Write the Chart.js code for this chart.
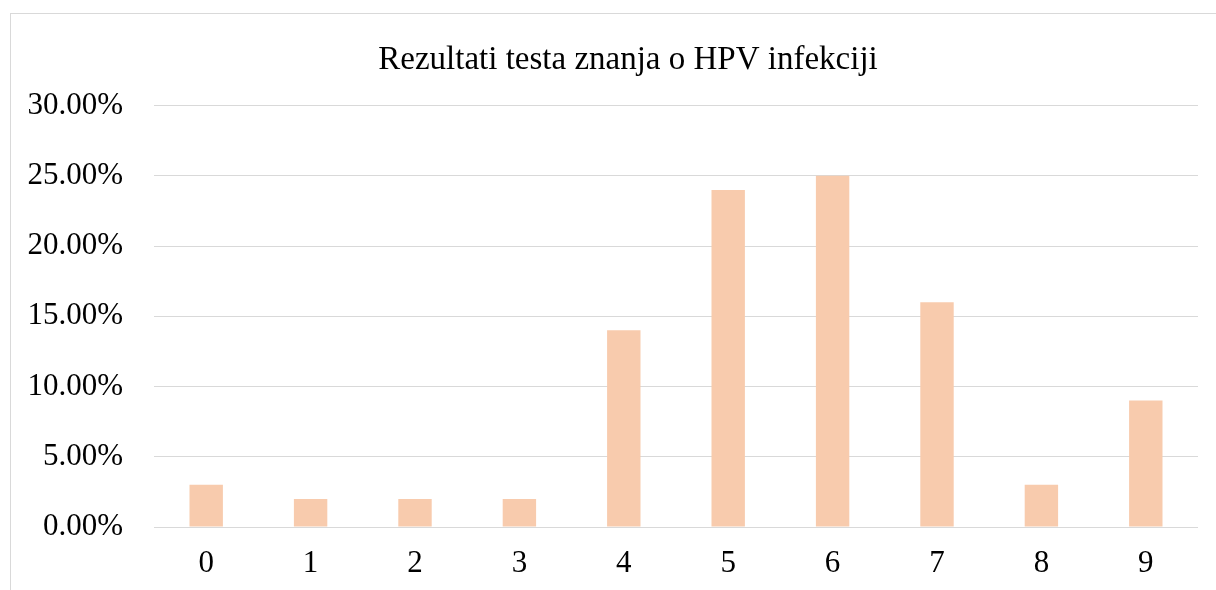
<!DOCTYPE html>
<html>
<head>
<meta charset="utf-8">
<script src="https://cdn.jsdelivr.net/npm/chart.js@4/dist/chart.umd.min.js"></script>
<style>
  html, body { margin: 0; padding: 0; background: #fff; overflow: hidden; }
  #frame { position: absolute; left: 10px; top: 13px; width: 1300px; height: 700px; border: 1px solid #d9d9d9; box-sizing: border-box; }
  #wrap { position: absolute; left: 1px; top: 1px; width: 1205px; height: 577px; }
</style>
</head>
<body>
<div id="frame"><div id="wrap"><canvas id="c"></canvas></div></div>
<script>
const titleText = 'Rezultati testa znanja o HPV infekciji';
const categories = ['0', '1', '2', '3', '4', '5', '6', '7', '8', '9'];
const percentValues = [3, 2, 2, 2, 14, 24, 25, 16, 3, 9];
const yTickMin = 0, yTickMax = 30, yTickStep = 5;

const serif = '"Liberation Serif", "Times New Roman", serif';

// shift the title box slightly to the right, as in the original chart frame
const titleShift = {
  id: 'titleShift',
  afterLayout(chart) {
    const t = chart.titleBlock;
    if (t) { t.left += 23; t.right += 23; }
  }
};

new Chart(document.getElementById('c'), {
  type: 'bar',
  data: {
    labels: categories,
    datasets: [{
      data: percentValues,
      backgroundColor: '#F8CBAD',
      borderWidth: 0,
      categoryPercentage: 1,
      barPercentage: 0.32
    }]
  },
  plugins: [titleShift],
  options: {
    responsive: true,
    maintainAspectRatio: false,
    animation: false,
    layout: { padding: { left: 0, right: 19, top: 0, bottom: 0 } },
    plugins: {
      legend: { display: false },
      tooltip: { enabled: false },
      title: {
        display: true,
        text: titleText,
        color: '#000',
        font: { family: serif, size: 33, weight: 'normal' },
        padding: { top: 26, bottom: 25 }
      }
    },
    scales: {
      x: {
        afterFit: (s) => { s.height = 65; },
        grid: { display: false, drawTicks: false },
        border: { display: false },
        ticks: { color: '#000', font: { family: serif, size: 31 }, padding: 18 }
      },
      y: {
        min: yTickMin,
        max: yTickMax,
        afterFit: (s) => { s.width = 142; },
        grid: { color: '#d9d9d9', lineWidth: 1, drawTicks: false },
        border: { display: false },
        ticks: {
          stepSize: yTickStep,
          color: '#000',
          font: { family: serif, size: 31 },
          padding: 31,
          callback: (v) => v.toFixed(2) + '%'
        }
      }
    }
  }
});
</script>
</body>
</html>
